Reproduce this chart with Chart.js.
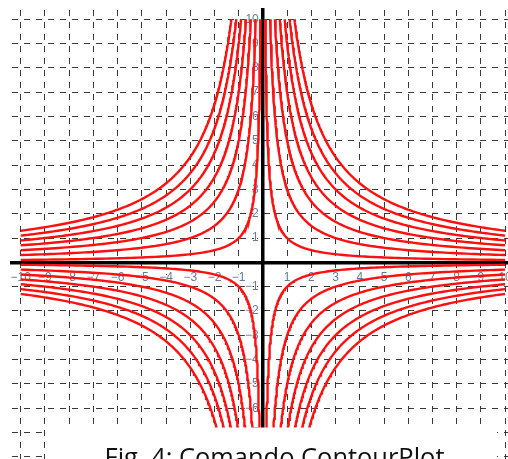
<!DOCTYPE html>
<html>
<head>
<meta charset="utf-8">
<script src="https://cdn.jsdelivr.net/npm/chart.js@4/dist/chart.umd.min.js"></script>
<style>
  html, body { margin: 0; padding: 0; background: #ffffff; overflow: hidden; }
  canvas { display: block; }
</style>
</head>
<body>
<canvas id="chart" width="508" height="459"></canvas>
<script>
// ---- data ----
// contour levels of f(x, y) = |x·y| (one hyperbola branch per quadrant)
const contourLevels = [1, 3, 5, 7, 9, 11, 13];
const quadrants = [[1, 1], [-1, 1], [-1, -1], [1, -1]];
const plotDomain = [-10, 10];            // x and y extent of the contour plot
const xTickValues = [-10, -9, -8, -7, -6, -5, -4, -3, -2, -1, 0, 1, 2, 3, 4, 5, 6, 7, 8, 9, 10];
const yTickValues = [-8, -7, -6, -5, -4, -3, -2, -1, 0, 1, 2, 3, 4, 5, 6, 7, 8, 9, 10];
const xView = [-10.36, 10.12];
const yView = [-8.09, 10.38];
const captionText = 'Fig. 4: Comando ContourPlot';

// ---- contour lines of |x·y| = c, traced along x ----
function contourBranch(c, sx, sy) {
  const lim = plotDomain[1];
  const a = c / lim, b = lim, n = 160;
  const pts = [];
  for (let i = 0; i < n; i++) {
    const ax = a * Math.pow(b / a, i / (n - 1));
    pts.push({ x: sx * ax, y: sy * c / ax });
  }
  return pts;
}

const datasets = [];
contourLevels.forEach(c => {
  quadrants.forEach(([sx, sy]) => {
    datasets.push({
      label: 'c=' + c,
      data: contourBranch(c, sx, sy),
      showLine: true,
      borderColor: '#ff1010',
      borderWidth: 2.4,
      pointRadius: 0,
      fill: false,
      tension: 0,
      yAxisID: 'y'
    });
  });
});

const fmt = v => v === 0 ? '' : (v < 0 ? '\u2212' + Math.abs(v) : String(v));
const gridColor = c => (c.tick && c.tick.value === 0) ? 'rgba(0,0,0,0)' : '#3a3a3a';
const zeroPad = s => { s.paddingLeft = 0; s.paddingRight = 0; s.paddingTop = 0; s.paddingBottom = 0; };
const labelColor = '#667a99';
const tickFont = { family: "'Liberation Sans', Arial, sans-serif", size: 12 };
const yLabelColumn = -0.17;   // x value where the y tick labels end (just left of the axis)

const captionPlugin = {
  id: 'caption',
  afterDraw(chart) {
    const ctx = chart.ctx;
    ctx.save();
    ctx.fillStyle = '#ffffff';
    ctx.fillRect(47, 427.5, 450, 40);
    ctx.font = "100px 'Open Sans', sans-serif";
    const w100 = ctx.measureText(captionText).width;
    const size = 100 * 340 / w100;
    ctx.font = size.toFixed(2) + "px 'Open Sans', sans-serif";
    const cap = ctx.measureText('F').actualBoundingBoxAscent;
    ctx.fillStyle = '#111111';
    ctx.textAlign = 'left';
    ctx.textBaseline = 'alphabetic';
    ctx.fillText(captionText, 104.5, 448 + cap);
    ctx.restore();
  }
};

new Chart(document.getElementById('chart').getContext('2d'), {
  type: 'scatter',
  data: { datasets },
  options: {
    responsive: false,
    animation: false,
    events: [],
    layout: { padding: { left: 12, top: 10, right: 0, bottom: 0 } },
    plugins: { legend: { display: false }, tooltip: { enabled: false }, title: { display: false } },
    scales: {
      x: {
        type: 'linear',
        position: { y: 0 },
        min: xView[0], max: xView[1],
        afterBuildTicks: s => { s.ticks = xTickValues.map(v => ({ value: v })); },
        afterFit: zeroPad,
        ticks: {
          autoSkip: false, maxRotation: 0, minRotation: 0,
          padding: 8,
          color: labelColor, font: tickFont,
          textStrokeColor: '#ffffff', textStrokeWidth: 3,
          callback: fmt
        },
        grid: { color: gridColor, lineWidth: 1, drawTicks: false },
        border: { display: true, color: '#000000', width: 3.5, dash: [6, 6] }
      },
      y: {
        type: 'linear',
        position: { x: 0 },
        min: yView[0], max: yView[1],
        afterBuildTicks: s => { s.ticks = yTickValues.map(v => ({ value: v })); },
        afterFit: zeroPad,
        ticks: { display: false },
        grid: { color: gridColor, lineWidth: 1, drawTicks: false },
        border: { display: true, color: '#000000', width: 3.5, dash: [6, 6] }
      },
      yLabels: {
        type: 'linear',
        axis: 'y',
        position: { x: yLabelColumn },
        min: yView[0], max: yView[1],
        afterBuildTicks: s => { s.ticks = yTickValues.map(v => ({ value: v })); },
        afterFit: zeroPad,
        ticks: {
          autoSkip: false,
          padding: 0,
          color: labelColor, font: tickFont,
          textStrokeColor: '#ffffff', textStrokeWidth: 2,
          callback: fmt
        },
        grid: { display: false, drawTicks: false },
        border: { display: false }
      }
    }
  },
  plugins: [captionPlugin]
});
</script>
</body>
</html>
